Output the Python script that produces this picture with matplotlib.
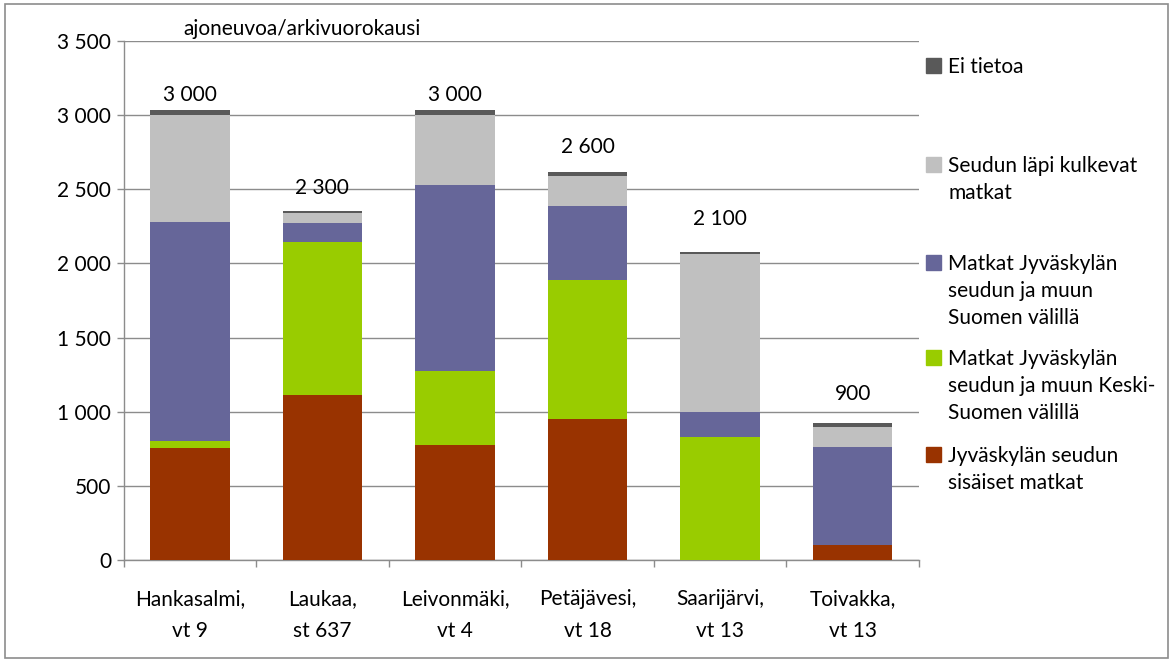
import matplotlib
matplotlib.use("Agg")
import matplotlib.pyplot as plt
from matplotlib.patches import Rectangle
import numpy as np

plt.rcParams['font.family'] = ['Lato', 'DejaVu Sans']

# data
places = ["Hankasalmi,\nvt 9", "Laukaa,\nst 637", "Leivonmäki,\nvt 4",
          "Petäjävesi,\nvt 18", "Saarijärvi,\nvt 13", "Toivakka,\nvt 13"]
sisaiset = [757, 1115, 777, 953, 0, 101]
keski_suomi = [47, 1027, 500, 932, 831, 0]
muu_suomi = [1473, 128, 1250, 500, 169, 663]
lapi = [725, 68, 473, 203, 1061, 135]
ei_tietoa = [32, 13, 34, 27, 13, 27]
total_labels = ["3 000", "2 300", "3 000", "2 600", "2 100", "900"]

series = [sisaiset, keski_suomi, muu_suomi, lapi, ei_tietoa]
colors = ['#993300', '#99CC00', '#666699', '#C0C0C0', '#595959']
legend_texts = [
    ["Ei tietoa"],
    ["Seudun läpi kulkevat", "matkat"],
    ["Matkat Jyväskylän", "seudun ja muun", "Suomen välillä"],
    ["Matkat Jyväskylän", "seudun ja muun Keski-", "Suomen välillä"],
    ["Jyväskylän seudun", "sisäiset matkat"],
]
legend_colors = ['#595959', '#C0C0C0', '#666699', '#99CC00', '#993300']
legend_y = [73, 172, 270, 365, 462]   # baseline of first line, px from top
label_pad = [11, 17, 11, 18, 24, 21]  # points above bar top

W, H = 1174, 662
fig = plt.figure(figsize=(W / 100, H / 100), dpi=100)
ax = fig.add_axes([123.5 / W, 1 - 560 / H, (919 - 123.5) / W, (560 - 41) / H])

x = np.arange(len(places))
bottom = np.zeros(len(places))
for vals, c in zip(series, colors):
    ax.bar(x, vals, width=0.6, bottom=bottom, color=c, zorder=3)
    bottom += np.array(vals)

for xi, top, lab, pad in zip(x, bottom, total_labels, label_pad):
    ax.annotate(lab, (xi, top), xytext=(0, pad), textcoords='offset points',
                ha='center', va='center', fontsize=15)

ax.set_xlim(-0.5, len(places) - 0.5)
ax.set_ylim(0, 3500)
ax.set_yticks(np.arange(0, 3501, 500))
ax.set_yticklabels([f"{v:,}".replace(",", " ") for v in range(0, 3501, 500)], fontsize=15)
ax.yaxis.grid(True, color='#8c8c8c', linewidth=1, zorder=0)
ax.set_xticks(x)
ax.set_xticklabels(places, fontsize=15, linespacing=1.75)
ax.set_xticks(np.arange(-0.5, len(places), 1), minor=True)
ax.tick_params(axis='x', which='major', length=0, pad=21)
ax.tick_params(axis='x', which='minor', length=5, color='#8c8c8c', width=1)
ax.tick_params(axis='y', length=5, color='#8c8c8c', width=1, pad=4)
for s in ['top', 'right']:
    ax.spines[s].set_visible(False)
for s in ['left', 'bottom']:
    ax.spines[s].set_color('#8c8c8c')
    ax.spines[s].set_linewidth(1)

fig.text(183 / W, 1 - 35 / H, "ajoneuvoa/arkivuorokausi", fontsize=15,
         ha='left', va='baseline')

# legend drawn by hand to keep Excel's uneven spacing
for lines, c, yb in zip(legend_texts, legend_colors, legend_y):
    fig.patches.append(Rectangle((926 / W, 1 - yb / H), 15.5 / W, 15.5 / H,
                                 transform=fig.transFigure, color=c))
    for i, t in enumerate(lines):
        fig.text(948 / W, 1 - (yb + 27 * i) / H, t, fontsize=15,
                 ha='left', va='baseline')

# chart border
fig.patches.append(Rectangle((5 / W, 4 / H), (1168 - 5) / W, (658 - 4) / H,
                             transform=fig.transFigure, fill=False,
                             edgecolor='#8c8c8c', linewidth=1.2))

fig.savefig("out.png", dpi=100)
